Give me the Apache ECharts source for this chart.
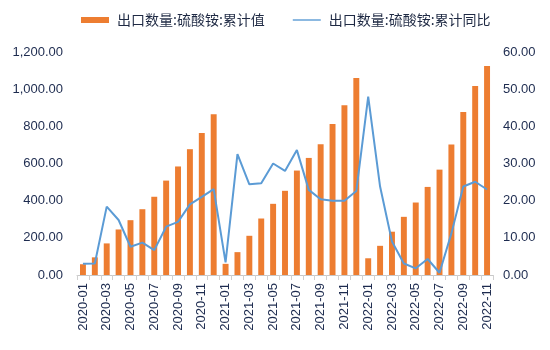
<!DOCTYPE html>
<html><head><meta charset="utf-8">
<script src="https://cdn.jsdelivr.net/npm/echarts@6/dist/echarts.min.js"></script>
<style>html,body{margin:0;padding:0;background:#fff}#c{width:550px;height:350px}</style>
</head><body><div id="c"></div>
<script>
var categories = ['2020-01','2020-02','2020-03','2020-04','2020-05','2020-06','2020-07','2020-08','2020-09','2020-10','2020-11','2020-12',
'2021-01','2021-02','2021-03','2021-04','2021-05','2021-06','2021-07','2021-08','2021-09','2021-10','2021-11','2021-12',
'2022-01','2022-02','2022-03','2022-04','2022-05','2022-06','2022-07','2022-08','2022-09','2022-10','2022-11'];
var cumValue = [58,95,170,245,295,354,421,508,584,677,764,865,
60,123,211,304,383,453,562,630,703,812,913,1060,
90,157,233,313,390,474,567,702,877,1017,1124];
var cumYoY = [3.0,3.1,18.4,14.8,7.6,8.7,6.7,13.0,14.3,19.0,21.0,23.1,
3.4,32.5,24.4,24.7,30.0,28.0,33.6,22.9,20.4,20.0,20.0,22.6,
48.0,23.8,9.0,3.1,1.8,4.3,0.6,11.2,23.8,25.1,23.0];
var seriesNames = ['出口数量:硫酸铵:累计值','出口数量:硫酸铵:累计同比'];

var chart = echarts.init(document.getElementById('c'));
var txt = '#1d2b4f';
var fmt = function(v){return v.toLocaleString('en-US',{minimumFractionDigits:2,maximumFractionDigits:2});};
chart.setOption({
  animation:false,
  textStyle:{fontFamily:'Liberation Sans, Arial, sans-serif'},
  legend:{top:8,left:76,itemGap:28,itemWidth:28,itemHeight:6,
    textStyle:{color:'#1f2a44',fontSize:14,fontFamily:'Noto Sans CJK SC',padding:[0,0,0,3]},
    data:[{name:seriesNames[0],icon:'rect'},
          {name:seriesNames[1],icon:'path://M0,0 L40,0 L40,2 L0,2 Z'}]},
  grid:{left:77,right:57,top:52,bottom:75},
  xAxis:{type:'category',data:categories,
    axisLine:{lineStyle:{color:'#c8c8c8'}},
    axisTick:{show:true,interval:0,lineStyle:{color:'#d0d0d0'}},
    axisLabel:{rotate:90,interval:1,color:txt,fontSize:13,margin:8}},
  yAxis:[
    {type:'value',min:0,max:1200,interval:200,splitLine:{show:false},
     axisLabel:{color:txt,fontSize:13,margin:14,formatter:fmt}},
    {type:'value',min:0,max:60,interval:10,splitLine:{show:false},
     axisLabel:{color:txt,fontSize:13,margin:10,formatter:fmt}}
  ],
  series:[
    {name:seriesNames[0],type:'bar',data:cumValue,barWidth:'50%',itemStyle:{color:'#ED7D31'}},
    {name:seriesNames[1],type:'line',yAxisIndex:1,data:cumYoY,symbol:'none',
     lineStyle:{color:'#5B9BD5',width:2},itemStyle:{color:'#5B9BD5'}}
  ]
});
</script></body></html>
